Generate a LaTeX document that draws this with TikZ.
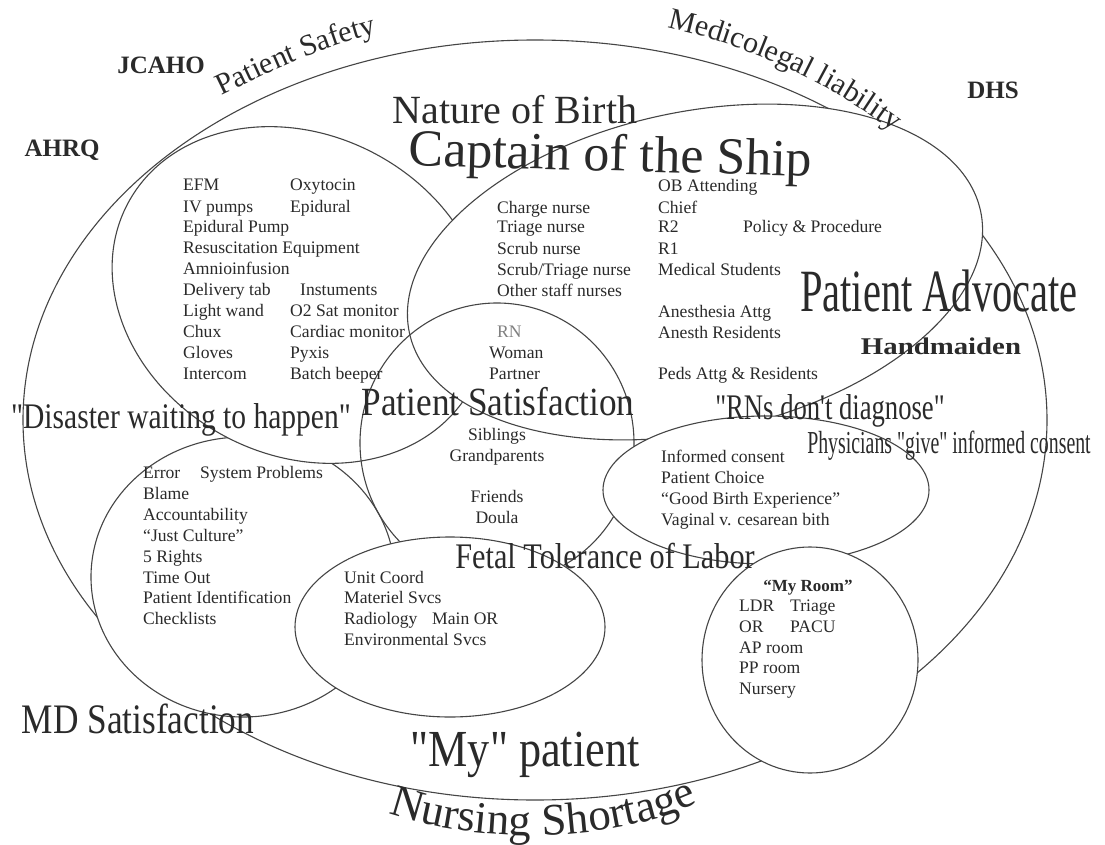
\documentclass[tikz,border=0pt]{standalone}
\usepackage{fontspec}
\setmainfont[Ligatures=TeXOff]{Liberation Serif}
\usetikzlibrary{decorations.text}
\definecolor{ink}{HTML}{2A2A2A}
\definecolor{rim}{HTML}{454545}
\definecolor{faint}{HTML}{808080}
\tikzset{
  ring/.style={draw=rim, line width=1.1pt},
  blank/.style={ring, fill=white},
  item/.style={anchor=base west, inner sep=0pt, text=ink, font=\fontsize{17.6}{17.6}\selectfont},
  itemc/.style={item, anchor=base},
  tag/.style={anchor=base, inner sep=0pt, text=ink, font=\bfseries\fontsize{25}{25}\selectfont},
  theme/.style={anchor=base, inner sep=0pt, text=ink, font=\fontsize{#1}{#1}\selectfont},
}
\begin{document}
\begin{tikzpicture}[x=1pt, y=-1pt]
\useasboundingbox[fill=white] (0,0) rectangle (1105,845);

% ---- circles of influence, back to front ----
\draw[ring] (535,420) ellipse [x radius=512, y radius=380];
\draw[blank] (243,577) ellipse [x radius=152, y radius=140];
\draw[blank, rotate around={-28:(300,295)}] (300,295) ellipse [x radius=195, y radius=160];
\draw[blank, rotate around={12:(695,272)}] (695,272) ellipse [x radius=292, y radius=160];
\draw[ring] (497,443) ellipse [x radius=137, y radius=140];
\draw[blank] (450,627) ellipse [x radius=155, y radius=90];
\draw[blank] (766,490) ellipse [x radius=163, y radius=74];
\draw[blank] (810,660) ellipse [x radius=108, y radius=113];

% ---- outer influences ----
\node[tag] (jcaho) at (161,74) {JCAHO};
\node[tag] (ahrq) at (62,157) {AHRQ};
\node[tag] (dhs) at (993,99) {DHS};
\path[decorate, decoration={text along path, text align=center,
  text={|\fontsize{30}{30}\selectfont\color{ink}|Patient Safety}}]
  (206,103) .. controls (262,76) and (320,46) .. (394,29);
\path[decorate, decoration={text along path, text align=center,
  text={|\fontsize{30}{30}\selectfont\color{ink}|Medicolegal liability}}]
  (642,22) .. controls (730,38) and (830,78) .. (914,148);
\path[decorate, decoration={text along path, text align=center,
  text={|\fontsize{45}{45}\selectfont\color{ink}|Nursing Shortage}}]
  (370,806) .. controls (460,846) and (620,848) .. (716,794);

% ---- themes ----
\node[theme=40] (birth) at (515,124) {Nature of Birth};
\node[theme=52, rotate=-1.5] (captain) at (610,171) {Captain of the Ship};
\node[theme=60, xscale=0.675] (advocate) at (939,311) {Patient Advocate};
\node[anchor=base, inner sep=0pt, text=ink, font=\bfseries\fontsize{24}{24}\selectfont, xscale=1.2] (handmaiden) at (941,354) {Handmaiden};
\node[theme=36, xscale=0.82] (disaster) at (181,428) {"Disaster waiting to happen"};
\node[theme=40, xscale=0.88] (satisfaction) at (498,415) {Patient Satisfaction};
\node[theme=36, xscale=0.74] (diagnose) at (830,419) {"RNs don't diagnose"};
\node[theme=32, xscale=0.62] (consent) at (949,453) {Physicians "give" informed consent};
\node[theme=36, xscale=0.84] (tolerance) at (605,568) {Fetal Tolerance of Labor};
\node[theme=42, xscale=0.84] (mdsat) at (138,733) {MD Satisfaction};
\node[theme=52, xscale=0.85] (mypatient) at (525,766) {"My" patient};

% ---- equipment ----
\node[item] (e1) at (183,191) {EFM};
\node[item] (e2) at (290,191) {Oxytocin};
\node[item] (e3) at (183,212) {IV pumps};
\node[item] (e4) at (290,212) {Epidural};
\node[item] (e5) at (183,233) {Epidural Pump};
\node[item] (e6) at (183,253) {Resuscitation Equipment};
\node[item] (e7) at (183,274) {Amnioinfusion};
\node[item] (e8) at (183,295) {Delivery tab};
\node[item] (e9) at (300,295) {Instuments};
\node[item] (e10) at (183,316) {Light wand};
\node[item] (e11) at (290,316) {O2 Sat monitor};
\node[item] (e12) at (183,337) {Chux};
\node[item] (e13) at (290,337) {Cardiac monitor};
\node[item] (e14) at (183,358) {Gloves};
\node[item] (e15) at (290,358) {Pyxis};
\node[item] (e16) at (183,379) {Intercom};
\node[item] (e17) at (290,379) {Batch beeper};

% ---- staff ----
\node[item] (s1) at (497,213) {Charge nurse};
\node[item] (s2) at (497,233) {Triage nurse};
\node[item] (s3) at (497,254) {Scrub nurse};
\node[item] (s4) at (497,275) {Scrub/Triage nurse};
\node[item] (s5) at (497,296) {Other staff nurses};
\node[item] (m1) at (658,192) {OB Attending};
\node[item] (m2) at (658,213) {Chief};
\node[item] (m3) at (658,233) {R2};
\node[item] (m4) at (658,254) {R1};
\node[item] (m5) at (658,275) {Medical Students};
\node[item] (m6) at (658,317) {Anesthesia Attg};
\node[item] (m7) at (658,338) {Anesth Residents};
\node[item] (m8) at (658,379) {Peds Attg \& Residents};
\node[item] (policy) at (743,233) {Policy \& Procedure};

% ---- family ----
\node[item, text=faint] (rn) at (497,337) {RN};
\node[item] (f1) at (489,358) {Woman};
\node[item] (f2) at (489,379) {Partner};
\node[itemc] (f3) at (497,440) {Siblings};
\node[itemc] (f4) at (497,461) {Grandparents};
\node[itemc] (f5) at (497,502) {Friends};
\node[itemc] (f6) at (497,523) {Doula};

% ---- safety culture ----
\node[item] (c1) at (143,478) {Error};
\node[item] (c2) at (200,478) {System Problems};
\node[item] (c3) at (143,499) {Blame};
\node[item] (c4) at (143,520) {Accountability};
\node[item] (c5) at (143,541) {“Just Culture”};
\node[item] (c6) at (143,562) {5 Rights};
\node[item] (c7) at (143,583) {Time Out};
\node[item] (c8) at (143,603) {Patient Identification};
\node[item] (c9) at (143,624) {Checklists};

% ---- support services ----
\node[item] (u1) at (344,583) {Unit Coord};
\node[item] (u2) at (344,603) {Materiel Svcs};
\node[item] (u3) at (344,624) {Radiology};
\node[item] (u4) at (432,624) {Main OR};
\node[item] (u5) at (344,645) {Environmental Svcs};

% ---- choice ----
\node[item] (i1) at (661,462) {Informed consent};
\node[item] (i2) at (661,483) {Patient Choice};
\node[item] (i3) at (661,504) {“Good Birth Experience”};
\node[item] (i4) at (661,525) {Vaginal v. cesarean bith};

% ---- rooms ----
\node[itemc, font=\bfseries\fontsize{17}{17}\selectfont] (r0) at (808,591) {“My Room”};
\node[item] (r1) at (739,611) {LDR};
\node[item] (r2) at (790,611) {Triage};
\node[item] (r3) at (739,632) {OR};
\node[item] (r4) at (790,632) {PACU};
\node[item] (r5) at (739,653) {AP room};
\node[item] (r6) at (739,673) {PP room};
\node[item] (r7) at (739,694) {Nursery};
\end{tikzpicture}
\end{document}
